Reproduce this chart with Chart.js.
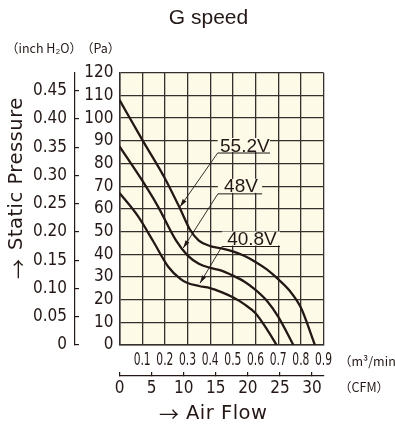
<!DOCTYPE html>
<html>
<head>
<meta charset="utf-8">
<script src="https://cdn.jsdelivr.net/npm/chart.js@4.4.0/dist/chart.umd.min.js"></script>
<style>
html, body { margin: 0; padding: 0; background: #fff; }
#wrap { width: 395px; height: 425px; }
</style>
</head>
<body>
<div id="wrap"><canvas id="chart-pq"></canvas></div>
<script>
// air flow (m3/min) vs static pressure (Pa)
const flow552 = [0, 0.1, 0.2, 0.27, 0.31, 0.35, 0.4, 0.45, 0.5, 0.55, 0.6, 0.65, 0.7, 0.75, 0.8, 0.862];
const pres552 = [108, 90.5, 73.5, 59.5, 51, 46, 43.6, 42.6, 41.3, 39.3, 36.6, 33.3, 29, 24, 16.5, 0];
const flow48 = [0, 0.1, 0.17, 0.25, 0.3, 0.35, 0.4, 0.45, 0.5, 0.55, 0.6, 0.65, 0.7, 0.767];
const pres48 = [87.5, 72.5, 61, 46, 39.5, 35.8, 34, 32.8, 30.6, 28, 24.3, 19.5, 12.5, 0];
const flow408 = [0, 0.08, 0.15, 0.215, 0.27, 0.3, 0.35, 0.4, 0.45, 0.5, 0.55, 0.6, 0.65, 0.693];
const pres408 = [67, 57, 45.5, 34.5, 29, 27.3, 26, 25.1, 23.3, 21, 18, 14, 7, 0];

const paTicks = [0, 10, 20, 30, 40, 50, 60, 70, 80, 90, 100, 110, 120];
const inchTicks = [0, 0.05, 0.10, 0.15, 0.20, 0.25, 0.30, 0.35, 0.40, 0.45];
const m3Ticks = [0, 0.1, 0.2, 0.3, 0.4, 0.5, 0.6, 0.7, 0.8, 0.9];
const cfmTicks = [0, 5, 10, 15, 20, 25, 30];

// voltage callouts: label, underline height (Pa), underline from/to (m3/min), arrow tip
const noteLabels = ['55.2V', '48V', '40.8V'];
const notePa = [84.6, 66.6, 43.4];
const noteFrom = [0.433, 0.434, 0.452];
const noteTo = [0.664, 0.629, 0.708];
const tipFlow = [0.267, 0.281, 0.355];
const tipPa = [60.9, 42.7, 27.2];

const PA_PER_INCH = 249.089;
const M3_PER_CFM = 0.0283168;

const ink = '#231815';
const gridInk = '#35302d';
const paper = '#fefae8';
const narrow = "'DejaVu Sans Condensed', 'Liberation Sans Narrow', sans-serif";

function pts(xs, ys) {
    return xs.map((x, i) => ({x: x, y: ys[i]}));
}

function curve(label, xs, ys) {
    return {
        label: label,
        data: pts(xs, ys),
        borderColor: ink,
        borderWidth: 2.3,
        pointRadius: 0,
        fill: false,
        cubicInterpolationMode: 'monotone'
    };
}

const paperPlugin = {
    id: 'paper',
    beforeDraw(chart) {
        const {ctx, chartArea: a} = chart;
        ctx.save();
        ctx.fillStyle = paper;
        ctx.fillRect(a.left, a.top, a.right - a.left, a.bottom - a.top);
        ctx.restore();
    },
    afterDatasetsDraw(chart) {
        const ctx = chart.ctx;
        const xs = chart.scales.x, ys = chart.scales.y;
        ctx.save();
        ctx.font = "19px 'Liberation Sans', Arial, sans-serif";
        noteLabels.forEach((txt, i) => {
            const x0 = xs.getPixelForValue(noteFrom[i]);
            const x1 = xs.getPixelForValue(noteTo[i]);
            const yl = ys.getPixelForValue(notePa[i]);
            // cover the grid behind the text
            ctx.fillStyle = paper;
            ctx.fillRect(x0, yl - 15, x1 - x0, 14);
            ctx.fillStyle = ink;
            ctx.textAlign = 'center';
            ctx.textBaseline = 'alphabetic';
            ctx.fillText(txt, (x0 + x1) / 2 + 1, yl - 1.5);
            ctx.strokeStyle = ink;
            ctx.lineWidth = 1;
            ctx.beginPath();
            ctx.moveTo(x0, yl);
            ctx.lineTo(x1, yl);
            ctx.stroke();
            // leader with arrow head
            const tx = xs.getPixelForValue(tipFlow[i]);
            const ty = ys.getPixelForValue(tipPa[i]);
            ctx.lineWidth = 0.9;
            ctx.beginPath();
            ctx.moveTo(x0, yl);
            ctx.lineTo(tx, ty);
            ctx.stroke();
            const ang = Math.atan2(ty - yl, tx - x0);
            ctx.beginPath();
            ctx.moveTo(tx, ty);
            ctx.lineTo(tx - 8 * Math.cos(ang) + 2.3 * Math.sin(ang), ty - 8 * Math.sin(ang) - 2.3 * Math.cos(ang));
            ctx.lineTo(tx - 8 * Math.cos(ang) - 2.3 * Math.sin(ang), ty - 8 * Math.sin(ang) + 2.3 * Math.cos(ang));
            ctx.closePath();
            ctx.fill();
        });
        ctx.restore();
    },
    afterDraw(chart) {
        const ctx = chart.ctx;
        const xs = chart.scales.x;
        ctx.save();
        ctx.fillStyle = ink;
        ctx.textBaseline = 'middle';

        // m3/min tick labels, squeezed like the condensed face of the original
        ctx.textAlign = 'center';
        ctx.font = '17px ' + narrow;
        xs.ticks.forEach(t => {
            if (t.value === 0) return;
            ctx.save();
            ctx.translate(xs.getPixelForValue(t.value), 361);
            ctx.scale(0.7, 1);
            ctx.fillText(t.value.toFixed(1), 0, 0);
            ctx.restore();
        });

        ctx.font = "21px 'Liberation Sans', Arial, sans-serif";
        ctx.fillText('G speed', 208.5, 18);

        ctx.textAlign = 'left';
        ctx.font = "12.5px 'Noto Sans CJK JP', sans-serif";
        ctx.fillText('（inch H₂O）', 6, 48);
        ctx.fillText('（Pa）', 81, 48);
        ctx.fillText('（m³/min）', 339, 361);
        ctx.fillText('（CFM）', 339, 387);

        // axis captions
        ctx.font = "20px 'Noto Sans CJK JP', sans-serif";
        ctx.fillText('→', 159, 414);
        ctx.letterSpacing = '0.5px';
        ctx.font = "19.5px 'DejaVu Sans', sans-serif";
        ctx.fillText('Air Flow', 186, 414);

        ctx.translate(17, 0);
        ctx.rotate(-Math.PI / 2);
        ctx.fillText('Static Pressure', -250, 0);
        ctx.letterSpacing = '0px';
        ctx.font = "20px 'Noto Sans CJK JP', sans-serif";
        ctx.fillText('→', -279, 1);
        ctx.restore();
    }
};

const tickFont = {family: narrow, size: 17};

new Chart(document.getElementById('chart-pq'), {
    type: 'line',
    data: {
        datasets: [
            curve('55.2V', flow552, pres552),
            curve('48V', flow48, pres48),
            curve('40.8V', flow408, pres408)
        ]
    },
    options: {
        responsive: true,
        maintainAspectRatio: false,
        animation: false,
        layout: {padding: {left: 10, right: 71.5, top: 72.7, bottom: 25}},
        plugins: {legend: {display: false}, tooltip: {enabled: false}},
        scales: {
            x: {
                type: 'linear', position: 'bottom', weight: 0,
                min: 0, max: 0.9,
                afterBuildTicks: s => { s.ticks = m3Ticks.map(v => ({value: v})); },
                afterFit: s => { s.height = 31; },
                grid: {color: gridInk, lineWidth: 1.3, drawTicks: false},
                border: {color: gridInk, width: 1.5},
                ticks: {display: false}
            },
            cfm: {
                type: 'linear', position: 'bottom', weight: 1,
                min: 0, max: 0.9 / M3_PER_CFM,
                afterBuildTicks: s => { s.ticks = cfmTicks.map(v => ({value: v})); },
                afterFit: s => { s.height = 24; },
                grid: {drawOnChartArea: false, drawTicks: true, tickLength: -4, color: ink, lineWidth: 1.2},
                border: {color: ink, width: 1.2},
                ticks: {padding: 6, maxRotation: 0, autoSkip: false, color: ink, font: tickFont, callback: v => String(v)}
            },
            y: {
                type: 'linear', position: 'left', weight: 0,
                min: 0, max: 120,
                afterBuildTicks: s => { s.ticks = paTicks.map(v => ({value: v})); },
                afterFit: s => { s.width = 44.5; },
                grid: {color: gridInk, lineWidth: 1.3, drawTicks: false},
                border: {color: gridInk, width: 1.5},
                ticks: {padding: 6, autoSkip: false, color: ink, font: tickFont, callback: v => String(v)}
            },
            inch: {
                type: 'linear', position: 'left', weight: 1,
                min: 0, max: 120 / PA_PER_INCH,
                afterBuildTicks: s => { s.ticks = inchTicks.map(v => ({value: v})); },
                afterFit: s => { s.width = 65; },
                grid: {drawOnChartArea: false, drawTicks: true, tickLength: -4, color: ink, lineWidth: 1.2},
                border: {color: ink, width: 1.2},
                ticks: {padding: 12, autoSkip: false, color: ink, font: tickFont, callback: v => v === 0 ? '0' : v.toFixed(2)}
            }
        }
    },
    plugins: [paperPlugin]
});
</script>
</body>
</html>
